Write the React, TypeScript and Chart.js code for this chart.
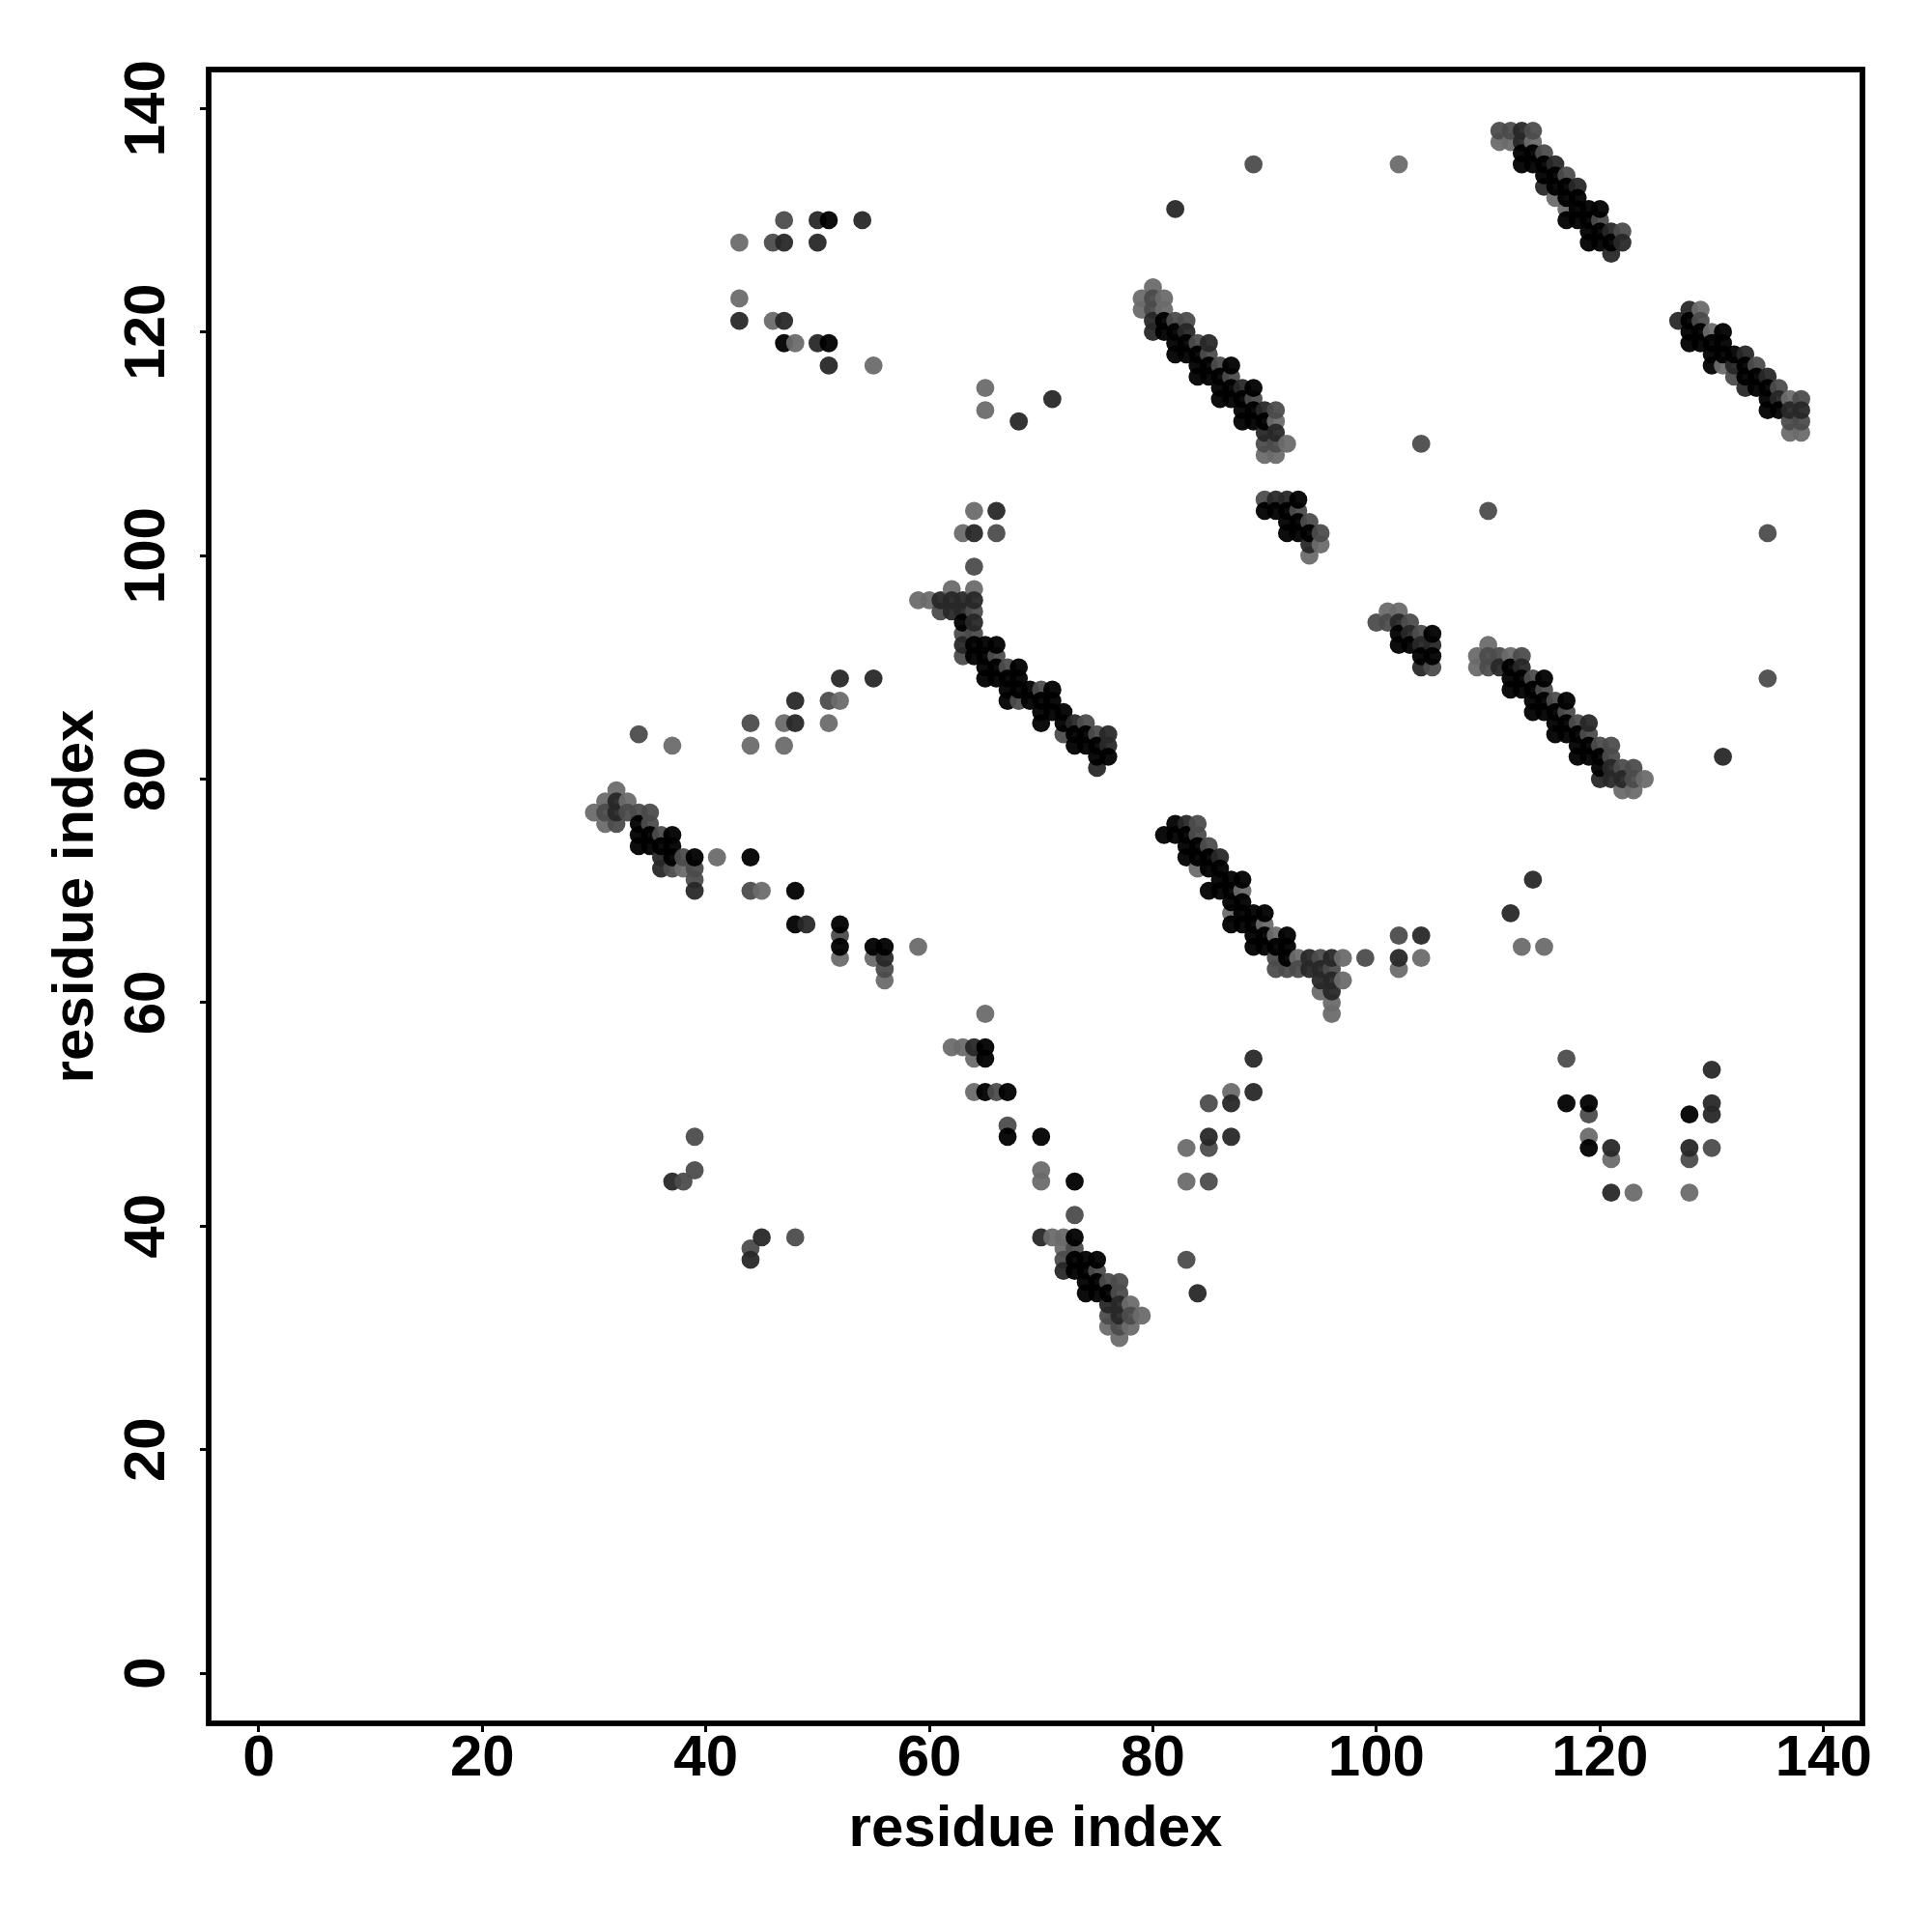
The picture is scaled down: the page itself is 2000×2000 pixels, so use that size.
import React, { useEffect, useRef } from "react";
import { Chart, registerables } from "chart.js";

Chart.register(...registerables);

type P = [number, number];

const axisTicks = [0, 20, 40, 60, 80, 100, 120, 140];
const axisTitle = "residue index";

const lightContacts: P[] = [
  [43,128],[43,123],[46,121],[48,119],[55,117],[65,115],[65,113],[102,135],[63,102],[64,104],[64,97],[62,97],[59,96],[60,96],
  [44,83],[47,83],[47,85],[51,85],[52,87],[37,83],
  [32,79],[31,78],[33,78],[30,77],[31,76],[38,72],[41,73],[45,70],[52,64],[55,64],[59,65],[56,62],
  [65,59],[62,56],[63,56],[64,55],[64,52],[70,45],[70,44],
  [71,39],[72,39],[72,38],[78,33],[79,32],[76,31],[78,31],[77,30],
  [83,47],[83,44],[87,52],[84,72],[88,70],[87,68],[90,67],[91,66],[93,64],[97,64],[97,62],[95,61],[96,60],[96,59],
  [102,63],[104,64],[113,65],[115,65],[119,48],[121,46],[123,43],[128,43],
  [80,124],[79,123],[81,123],[79,122],[81,122],[91,112],[92,110],[90,109],[91,109],[95,101],[94,100],
  [101,95],[102,95],[110,92],[109,91],[112,91],[109,90],[124,80],[122,79],[123,79],
  [111,137],[112,137],[114,137],[116,132],[117,131],[129,122],[130,120],[131,117],[137,114],[137,111],[138,111],
];

const midContacts: P[] = [
  [47,130],[46,128],[89,135],[104,110],[110,104],[135,102],[135,89],[66,102],[64,99],[61,95],[64,95],[63,93],[64,93],[63,91],[66,91],[67,90],[70,88],[68,87],[74,85],[72,84],[75,84],
  [34,84],[44,85],[51,87],[33,77],[34,77],[35,77],[31,77],[32,76],[35,76],[36,75],[38,73],[37,72],[39,72],[39,71],[44,70],[52,66],[56,63],
  [66,52],[67,49],[73,41],[38,44],[39,45],[39,48],[44,38],[48,39],[73,38],[72,37],[76,35],[77,35],[75,36],[77,34],[76,32],[78,32],[77,31],
  [85,44],[85,47],[85,51],[83,37],[84,76],[84,75],[85,74],[91,64],[95,64],[99,64],[91,63],[92,63],[93,63],[96,63],[102,66],[117,55],[119,50],[128,46],[130,47],
  [80,123],[80,122],[82,121],[83,121],[84,119],[85,118],[86,117],[87,116],[89,114],[91,113],[90,110],[91,110],
  [90,105],[93,104],[94,103],[95,102],[100,94],[101,94],[103,94],[104,93],[105,90],
  [110,91],[111,91],[113,91],[110,90],[114,89],[115,88],[116,87],[117,86],[118,85],[119,84],[120,83],[121,83],[121,82],[122,81],[123,81],[123,80],
  [111,138],[112,138],[114,138],[115,136],[117,134],[120,130],[122,129],
  [129,121],[134,117],[132,116],[136,115],[138,114],[137,112],[138,112],
];

const darkContacts: P[] = [
  [47,128],[50,128],[50,130],[54,130],[43,121],[47,121],[50,119],[51,117],[68,112],[71,114],[82,131],[131,82],
  [64,102],[66,104],[61,96],[62,96],[63,96],[64,96],[62,95],[63,95],[64,94],[63,92],
  [48,85],[48,87],[52,89],[55,89],[32,78],[32,77],[36,72],[36,73],[39,70],[49,67],[56,64],
  [64,56],[37,44],[44,37],[45,39],[70,39],[72,36],[76,33],[77,33],[77,32],
  [85,48],[87,48],[87,51],[89,52],[89,55],[84,34],[83,76],[86,73],[94,64],[96,64],[94,63],[95,63],[95,62],[96,62],[96,61],[104,66],[102,64],
  [112,68],[114,71],[121,47],[121,43],[128,47],[130,54],[130,51],[130,50],
  [80,121],[80,120],[83,120],[85,119],[88,115],[90,113],[90,111],[91,111],
  [91,105],[92,105],[94,101],[102,94],[103,93],[104,92],[105,92],[104,90],
  [111,90],[113,90],[119,85],[121,81],[120,80],[121,80],[122,80],
  [113,138],[113,137],[116,135],[118,133],[115,133],[121,129],[122,128],[121,127],
  [128,122],[127,121],[133,118],[132,117],[133,115],[135,116],[136,114],[138,113],[137,113],[73,85],[76,84],[76,83],[75,81],
];

const blackContacts: P[] = [
  [51,130],[47,119],[51,119],
  [65,92],[66,92],[64,92],[65,91],[64,91],[65,90],[66,90],[68,90],[65,89],[66,89],[67,89],[68,89],
  [67,88],[68,88],[69,88],[71,88],[67,87],[69,87],[70,87],[71,87],[70,86],[71,86],[72,86],[70,85],[72,85],[73,84],[74,84],[73,83],[74,83],[75,83],[75,82],[76,82],[63,94],
  [34,76],[34,75],[35,75],[37,75],[34,74],[35,74],[36,74],[37,74],[37,73],[39,73],[44,73],[48,70],[48,67],[52,67],[52,65],[55,65],[56,65],
  [65,56],[65,55],[65,52],[67,52],[67,48],[70,48],[73,44],[73,39],[73,37],[74,37],[75,37],[73,36],[74,36],[74,35],[75,35],[74,34],[75,34],[76,34],
  [82,76],[81,75],[82,75],[83,75],[83,74],[84,74],[83,73],[84,73],[85,73],[85,72],[86,72],[86,71],[87,71],[88,71],[85,70],[86,70],[87,70],[87,69],[88,69],
  [88,68],[89,68],[90,68],[87,67],[88,67],[89,67],[89,66],[90,66],[92,66],[89,65],[90,65],[91,65],[92,65],[92,64],
  [117,51],[119,51],[119,47],[128,50],
  [81,121],[81,120],[82,120],[82,119],[83,119],[82,118],[83,118],[84,118],[84,117],[85,117],[87,117],[84,116],[85,116],[86,116],[86,115],[87,115],[89,115],
  [86,114],[87,114],[88,114],[88,113],[89,113],[88,112],[89,112],[90,112],
  [93,105],[90,104],[91,104],[92,104],[92,103],[93,103],[92,102],[93,102],[94,102],
  [102,93],[105,93],[102,92],[103,92],[104,91],[105,91],
  [112,90],[112,89],[113,89],[115,89],[112,88],[113,88],[114,88],[114,87],[115,87],[117,87],[114,86],[115,86],[116,86],[116,85],[117,85],[116,84],[117,84],[118,84],
  [118,83],[119,83],[118,82],[119,82],[120,82],[120,81],
  [113,136],[114,136],[113,135],[114,135],[115,135],[115,134],[116,134],[116,133],[117,133],[117,132],[118,132],[118,131],[119,131],[120,131],
  [117,130],[118,130],[119,130],[119,129],[120,129],[119,128],[120,128],[121,128],
  [128,121],[128,120],[129,120],[131,120],[128,119],[129,119],[130,119],[131,119],[130,118],[131,118],[132,118],[130,117],[133,117],[133,116],[134,116],[134,115],[135,115],
  [135,114],[135,113],[136,113],
];

const shadeGroups: { points: P[]; colour: string }[] = [
  { points: lightContacts, colour: "rgba(108,108,108,0.95)" },
  { points: midContacts, colour: "rgba(76,76,76,0.95)" },
  { points: darkContacts, colour: "rgba(40,40,40,0.95)" },
  { points: blackContacts, colour: "rgba(0,0,0,0.95)" },
];

const framePlugin = {
  id: "frame",
  afterDraw(chart: any) {
    const { ctx, chartArea: a } = chart;
    ctx.save();
    ctx.strokeStyle = "#000";
    ctx.lineWidth = 5.8;
    ctx.strokeRect(a.left, a.top, a.right - a.left, a.bottom - a.top);
    ctx.restore();
  },
};

export default function App() {
  const ref = useRef<HTMLCanvasElement>(null);
  useEffect(() => {
    if (!ref.current) return;
    const rows = shadeGroups
      .flatMap((g, rank) => g.points.map(([x, y]) => ({ x, y, rank, colour: g.colour })))
      .sort((a, b) => a.x - b.x || a.rank - b.rank);
    const font = { family: "'Liberation Sans', Arial, sans-serif", size: 60, weight: "bold" as const };
    const axisCommon = {
      type: "linear" as const,
      min: -4.48,
      max: 143.48,
      afterBuildTicks(scale: any) {
        scale.ticks = axisTicks.map((value) => ({ value }));
      },
      border: { display: false },
      grid: { drawOnChartArea: false, drawTicks: true, tickLength: 9, tickWidth: 3, tickColor: "#000" },
    };
    const chart = new Chart(ref.current, {
      type: "scatter",
      data: {
        datasets: [
          {
            data: rows.map((r) => ({ x: r.x, y: r.y })),
            pointRadius: 9.4,
            pointHoverRadius: 9.4,
            pointBorderWidth: 0,
            pointBackgroundColor: rows.map((r) => r.colour),
          },
        ],
      },
      options: {
        animation: false,
        responsive: false,
        clip: false,
        layout: { padding: { top: 72, right: 72, left: 0, bottom: 0 } },
        plugins: { legend: { display: false }, tooltip: { enabled: false } },
        scales: {
          x: {
            ...axisCommon,
            afterFit(scale: any) {
              scale.height = 216;
            },
            ticks: { color: "#000", font, padding: -8, maxRotation: 0, minRotation: 0, autoSkip: false, callback: (v: any) => String(v) },
            title: { display: true, text: axisTitle, color: "#000", font, padding: { top: 0, bottom: 70 } },
          },
          y: {
            ...axisCommon,
            afterFit(scale: any) {
              scale.width = 216;
            },
            ticks: { color: "#000", font, padding: 3, crossAlign: "center", maxRotation: 90, minRotation: 90, autoSkip: false, callback: (v: any) => String(v) },
            title: { display: true, text: axisTitle, color: "#000", font, padding: { top: 43, bottom: 0 } },
          },
        },
      },
      plugins: [framePlugin],
    });
    return () => chart.destroy();
  }, []);
  return (
    <div style={{ position: "absolute", left: 0, top: 0, width: 2000, height: 2000, background: "#fff" }}>
      <canvas ref={ref} width={2000} height={2000} style={{ display: "block" }} />
    </div>
  );
}
